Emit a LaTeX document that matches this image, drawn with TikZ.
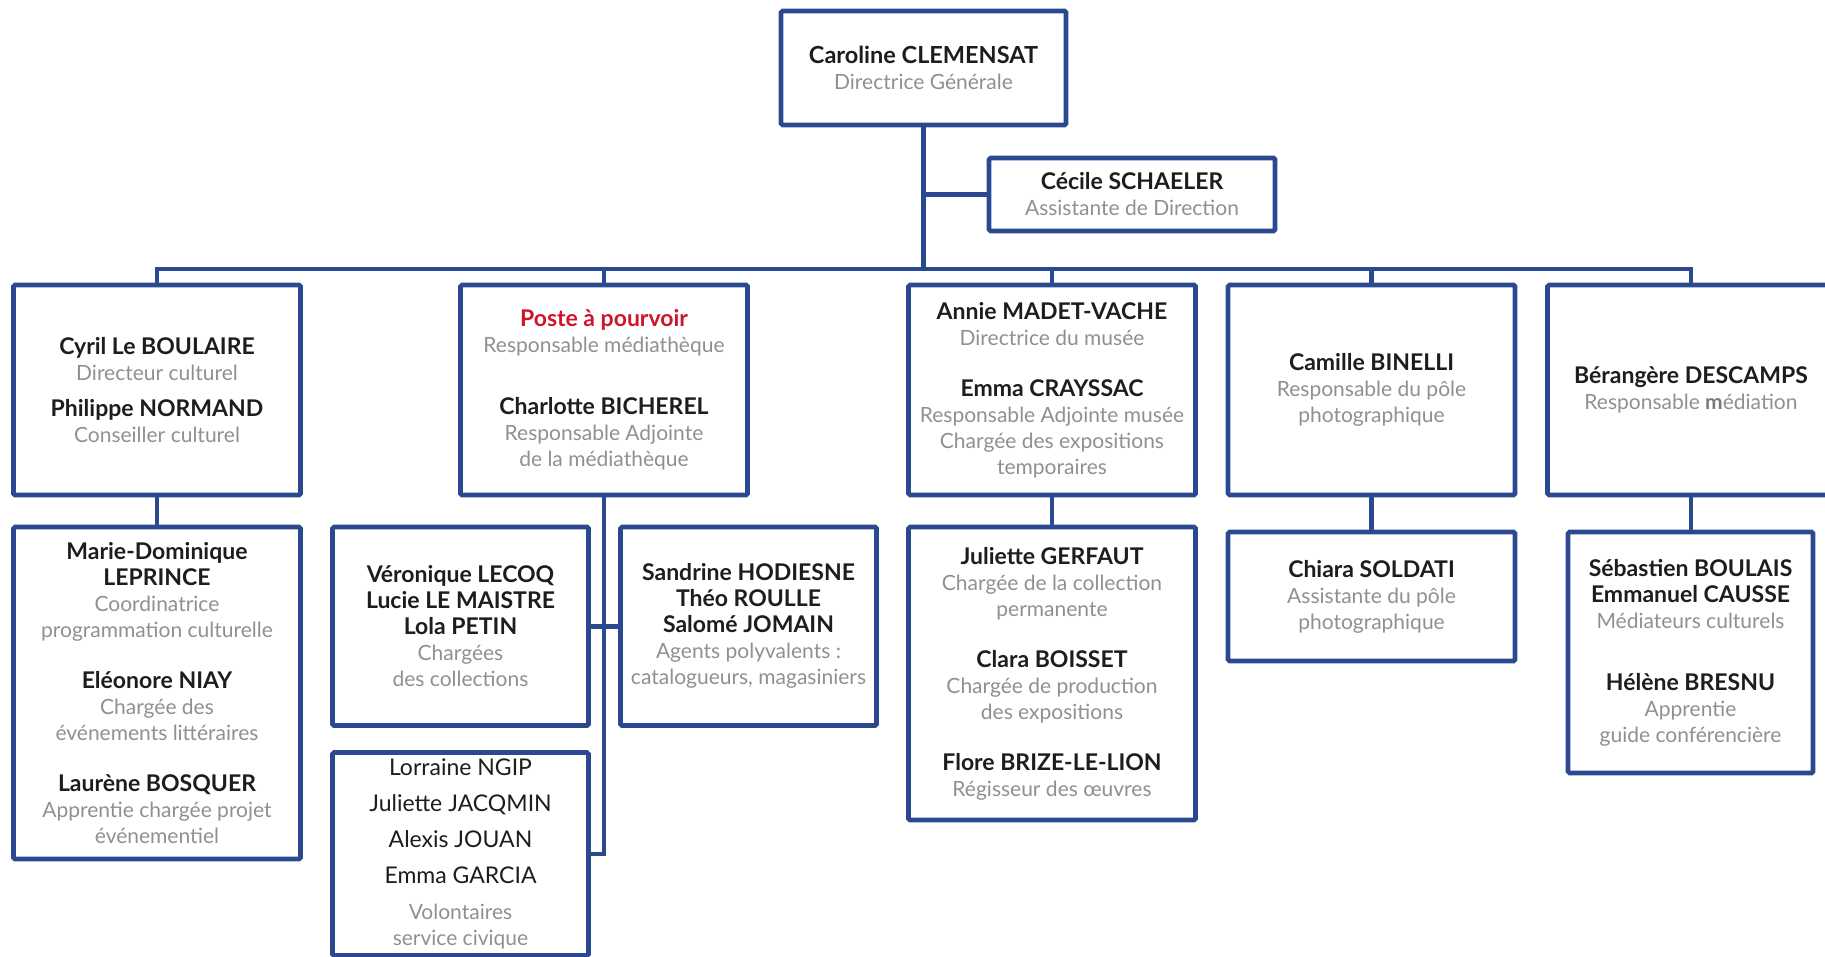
\documentclass[tikz,border=0pt]{standalone}
\usepackage{fontspec}
\setmainfont{Lato}
\definecolor{navy}{HTML}{2B4990}
\definecolor{ink}{HTML}{1D1D1B}
\definecolor{muted}{HTML}{8D9291}
\definecolor{alert}{HTML}{D0142C}
\newcommand{\nm}[1]{{\fontsize{23}{26}\selectfont\bfseries\color{ink}#1}}
\newcommand{\nr}[1]{{\fontsize{23}{26}\selectfont\color{ink}#1}}
\begin{document}
\begin{tikzpicture}[x=1pt,y=-1pt,
  box/.style={draw=navy, line width=4.6pt, fill=white, inner sep=0pt, align=center,
    text=muted, font=\fontsize{21}{26}\selectfont, rounded corners=1.5pt},
  conn/.style={draw=navy, line width=4.6pt}]
\useasboundingbox (0,0) rectangle (1825,956);
\clip (0,0) rectangle (1825,956);
% top
\node[box, minimum width=285pt, minimum height=114pt] (T) at (923.5,68)
  {{\fontsize{23.5}{26}\selectfont\bfseries\color{ink}Caroline CLEMENSAT}\\Directrice Générale};
\node[box, minimum width=286pt, minimum height=73pt] (S) at (1132,194.5)
  {\nm{Cécile SCHAELER}\\Assistante de Direction};
\coordinate (bar) at (923.5,269);
% level 1
\node[box, minimum width=287pt, minimum height=210pt] (A) at (157,390)
  {\nm{Cyril Le BOULAIRE}\\Directeur culturel\\[10pt]\nm{Philippe NORMAND}\\Conseiller culturel};
\node[box, minimum width=287pt, minimum height=210pt] (B) at (604,390)
  {{\fontsize{23}{26}\selectfont\bfseries\color{alert}Poste à pourvoir}\\Responsable médiathèque\\[36pt]\nm{Charlotte BICHEREL}\\Responsable Adjointe\\de la médiathèque};
\node[box, minimum width=287pt, minimum height=210pt] (C) at (1052,390)
  {\nm{Annie MADET-VACHE}\\Directrice du musée\\[25pt]\nm{Emma CRAYSSAC}\\Responsable Adjointe musée\\Chargée des expositions\\temporaires};
\node[box, minimum width=287pt, minimum height=210pt] (D) at (1371.5,390)
  {\nm{Camille BINELLI}\\Responsable du pôle\\photographique};
\node[box, minimum width=287pt, minimum height=210pt] (E) at (1691,390)
  {\nm{Bérangère DESCAMPS}\\Responsable {\color{muted!80!ink}\bfseries m}édiation};
% level 2
\node[box, minimum width=287pt, minimum height=332pt] (A2) at (157,693)
  {\nm{Marie-Dominique}\\\nm{LEPRINCE}\\Coordinatrice\\programmation culturelle\\[25pt]\nm{Eléonore NIAY}\\Chargée des\\événements littéraires\\[25pt]\nm{Laurène BOSQUER}\\Apprentie chargée projet\\événementiel};
\node[box, minimum width=256pt, minimum height=198.5pt] (B2a) at (460.5,626.25)
  {\nm{Véronique LECOQ}\\\nm{Lucie LE MAISTRE}\\\nm{Lola PETIN}\\Chargées\\des collections};
\node[box, minimum width=256pt, minimum height=198.5pt] (B2b) at (748.5,626.25)
  {\nm{Sandrine HODIESNE}\\\nm{Théo ROULLE}\\\nm{Salomé JOMAIN}\\Agents polyvalents :\\catalogueurs, magasiniers};
\node[box, minimum width=256pt, minimum height=203pt] (B2c) at (460.5,854)
  {\nr{Lorraine NGIP}\\[10pt]\nr{Juliette JACQMIN}\\[10pt]\nr{Alexis JOUAN}\\[10pt]\nr{Emma GARCIA}\\[10pt]Volontaires\\service civique};
\node[box, minimum width=287pt, minimum height=293pt] (C2) at (1052,673.5)
  {\nm{Juliette GERFAUT}\\Chargée de la collection\\permanente\\[25pt]\nm{Clara BOISSET}\\Chargée de production\\des expositions\\[25pt]\nm{Flore BRIZE-LE-LION}\\Régisseur des œuvres};
\node[box, minimum width=287pt, minimum height=129pt] (D2) at (1371.5,596.5)
  {\nm{Chiara SOLDATI}\\Assistante du pôle\\photographique};
\node[box, minimum width=245pt, minimum height=241pt] (E2) at (1690.5,652.5)
  {\nm{Sébastien BOULAIS}\\\nm{Emmanuel CAUSSE}\\Médiateurs culturels\\[36pt]\nm{Hélène BRESNU}\\Apprentie\\guide conférencière};
% connectors
\draw[conn] (T.south) -- (T.south |- bar);
\draw[conn] (S.west) -- (S.west -| T.south);
\draw[conn] (A.north) -- (A.north |- bar) -| (E.north);
\draw[conn] (B.north) -- (B.north |- bar);
\draw[conn] (C.north) -- (C.north |- bar);
\draw[conn] (D.north) -- (D.north |- bar);
\draw[conn] (A.south) -- (A2.north);
\draw[conn] (B.south) |- (B2c.east);
\draw[conn] (B2a.east) -- (B2b.west);
\draw[conn] (C.south) -- (C2.north);
\draw[conn] (D.south) -- (D2.north);
\draw[conn] (E.south) -- (E.south |- E2.north);
\end{tikzpicture}
\end{document}
